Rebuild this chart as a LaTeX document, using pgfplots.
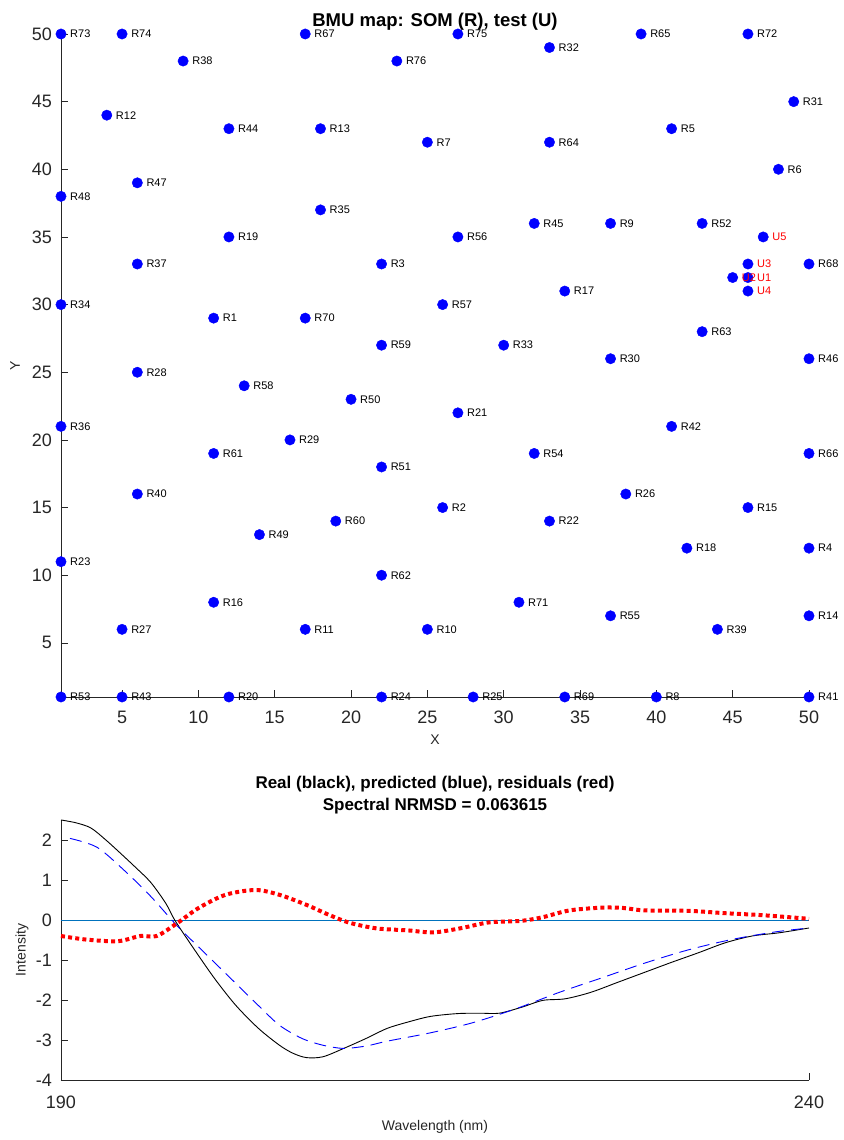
\documentclass[border=0pt]{standalone}
\usepackage{fontspec}
\setmainfont{Liberation Sans}
\usepackage{pgfplots}
\pgfplotsset{compat=1.18}
\usepackage{pgfplotstable}

\pgfplotstableread{
x y label
1 50 R73
5 50 R74
17 50 R67
27 50 R75
39 50 R65
46 50 R72
33 49 R32
9 48 R38
23 48 R76
49 45 R31
4 44 R12
12 43 R44
18 43 R13
41 43 R5
25 42 R7
33 42 R64
48 40 R6
6 39 R47
1 38 R48
18 37 R35
32 36 R45
37 36 R9
43 36 R52
12 35 R19
27 35 R56
6 33 R37
22 33 R3
50 33 R68
34 31 R17
1 30 R34
26 30 R57
11 29 R1
17 29 R70
43 28 R63
22 27 R59
30 27 R33
37 26 R30
50 26 R46
6 25 R28
13 24 R58
20 23 R50
27 22 R21
1 21 R36
41 21 R42
16 20 R29
11 19 R61
32 19 R54
50 19 R66
22 18 R51
6 16 R40
38 16 R26
26 15 R2
46 15 R15
19 14 R60
33 14 R22
14 13 R49
42 12 R18
50 12 R4
1 11 R23
22 10 R62
11 8 R16
31 8 R71
37 7 R55
50 7 R14
5 6 R27
17 6 R11
25 6 R10
44 6 R39
1 1 R53
5 1 R43
12 1 R20
22 1 R24
28 1 R25
34 1 R69
40 1 R8
50 1 R41
}\Rdata

\pgfplotstableread{
x y label
46 32 U1
45 32 U2
46 33 U3
46 31 U4
47 35 U5
}\Udata

\pgfplotstableread{
x y
190 2.50
191 2.43
192 2.30
193 2.00
194 1.66
195 1.31
196 0.94
197 0.42
197.6 0.00
198.9 -0.73
200.3 -1.48
201.7 -2.14
203.2 -2.71
204.6 -3.13
205.5 -3.33
206.4 -3.44
207.5 -3.42
208.9 -3.21
210.4 -2.96
211.8 -2.71
213.2 -2.55
214.7 -2.41
216.5 -2.34
218.0 -2.33
219.3 -2.33
220.8 -2.18
222.2 -2.01
223.7 -1.97
225.4 -1.81
227.2 -1.56
229.0 -1.31
230.8 -1.06
232.6 -0.82
234.4 -0.57
236.2 -0.40
238.0 -0.32
240 -0.20
}\Real

\pgfplotstableread{
x y
190.6 2.04
192.4 1.82
194.2 1.25
196.0 0.59
197.8 -0.16
199.6 -0.82
201.4 -1.48
203.2 -2.14
204.6 -2.63
206.1 -2.96
207.5 -3.13
208.9 -3.21
210.4 -3.15
211.8 -3.03
214.7 -2.82
217.5 -2.57
220.4 -2.22
223.3 -1.81
226.2 -1.44
229.0 -1.08
231.9 -0.75
234.8 -0.49
237.7 -0.30
240 -0.20
}\Pred

\pgfplotstableread{
x y
190 -0.40
191.7 -0.49
193.8 -0.53
195.3 -0.40
196.4 -0.40
197.8 -0.07
199.2 0.30
201.0 0.63
203.0 0.75
204.6 0.63
206.4 0.38
207.9 0.13
209.3 -0.07
211.1 -0.21
213.2 -0.26
214.9 -0.31
216.8 -0.20
218.6 -0.06
220.8 -0.02
222.2 0.07
224.0 0.24
226.2 0.31
227.6 0.30
229.0 0.24
231.9 0.23
234.4 0.17
236.9 0.12
240 0.03
}\Resid

\definecolor{axgray}{rgb}{0.15,0.15,0.15}
\definecolor{mlblue}{rgb}{0,0.447,0.741}

\begin{document}
\begin{tikzpicture}[x=1pt,y=1pt]
\path[use as bounding box] (0,0) rectangle (843,1140);
\begin{axis}[
  at={(61pt,443pt)}, anchor=south west,
  scale only axis, width=748pt, height=663pt,
  xmin=1, xmax=50, ymin=1, ymax=50,
  axis x line*=bottom, axis y line*=left,
  axis line style={-, axgray, line width=0.7pt},
  tick align=inside, major tick length=7pt,
  tick style={axgray, line width=0.7pt},
  xtick={5,10,...,50}, ytick={5,10,...,50},
  /pgf/number format/assume math mode=true,
  ticklabel style={font=\fontsize{18}{20}\selectfont, text=axgray},
  xticklabel style={inner sep=0pt, anchor=north, yshift=-14pt},
  yticklabel style={inner sep=0pt, anchor=east, xshift=-9pt},
  clip=false,
  title={BMU map: SOM (R), test (U)},
  every axis title/.style={at={(axis description cs:0.5,1.0106)}, anchor=base, font=\bfseries\fontsize{18.5}{22}\selectfont},
  xlabel={X}, ylabel={Y},
  every axis x label/.style={at={(axis description cs:0.5,-0.0649)}, anchor=center, font=\fontsize{14}{16}\selectfont, text=axgray},
  every axis y label/.style={at={(axis description cs:-0.0615,0.5)}, rotate=90, anchor=center, font=\fontsize{14}{16}\selectfont, text=axgray},
]
\addplot[only marks, mark=*, mark size=5.2pt, color=blue, mark options={fill=blue, draw=blue},
  point meta=explicit symbolic, nodes near coords, nodes near coords align=horizontal,
  every node near coord/.append style={anchor=west, inner sep=0pt, xshift=9pt, text=black, font=\fontsize{11}{13}\selectfont}]
  table[x=x, y=y, meta=label] {\Rdata};
\addplot[only marks, mark=*, mark size=5.2pt, color=blue, mark options={fill=blue, draw=blue},
  point meta=explicit symbolic, nodes near coords, nodes near coords align=horizontal,
  every node near coord/.append style={anchor=west, inner sep=0pt, xshift=9pt, text=red, font=\fontsize{11}{13}\selectfont}]
  table[x=x, y=y, meta=label] {\Udata};
\end{axis}

\begin{axis}[
  at={(61pt,60pt)}, anchor=south west,
  scale only axis, width=748pt, height=260pt,
  xmin=190, xmax=240, ymin=-4, ymax=2.5,
  axis x line*=bottom, axis y line*=left,
  axis line style={-, axgray, line width=0.7pt},
  tick align=inside, major tick length=7pt,
  tick style={axgray, line width=0.7pt},
  xtick={190,240}, xticklabels={190,240},
  ytick={-4,-3,-2,-1,0,1,2}, yticklabels={-4,-3,-2,-1,0,1,2},
  ticklabel style={font=\fontsize{18}{20}\selectfont, text=axgray},
  xticklabel style={inner sep=0pt, anchor=north, yshift=-16pt},
  yticklabel style={inner sep=0pt, anchor=east, xshift=-9pt},
  clip=false,
  title={Real (black), predicted (blue), residuals (red)},
  every axis title/.style={at={(axis description cs:0.5,1.123)}, anchor=base, font=\bfseries\fontsize{17}{20}\selectfont},
  xlabel={Wavelength (nm)}, ylabel={Intensity},
  every axis x label/.style={at={(axis description cs:0.5,-0.181)}, anchor=center, font=\fontsize{14}{16}\selectfont, text=axgray},
  every axis y label/.style={at={(axis description cs:-0.0521,0.5)}, rotate=90, anchor=center, font=\fontsize{14}{16}\selectfont, text=axgray},
]
\addplot[color=mlblue, line width=1pt] coordinates {(190,0) (240,0)};
\addplot[color=black, line width=0.9pt, smooth, tension=0.5] table[x=x,y=y] {\Real};
\addplot[color=blue, line width=0.9pt, smooth, tension=0.5, dash pattern=on 12pt off 7pt] table[x=x,y=y] {\Pred};
\addplot[color=red, line width=4pt, smooth, tension=0.5, dash pattern=on 4pt off 3.2pt] table[x=x,y=y] {\Resid};
\node[anchor=base, font=\bfseries\fontsize{17}{20}\selectfont] at (axis description cs:0.5,1.035) {Spectral NRMSD = 0.063615};
\end{axis}
\end{tikzpicture}
\end{document}
